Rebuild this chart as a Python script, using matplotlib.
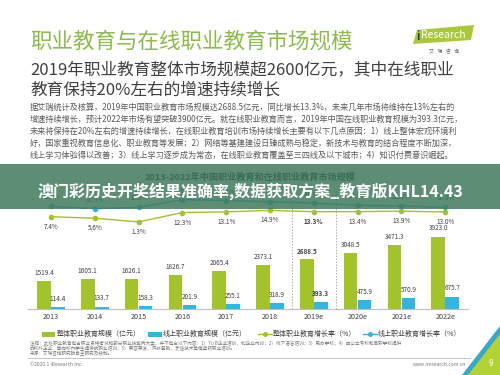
import matplotlib
matplotlib.use("Agg")
import matplotlib.pyplot as plt
from matplotlib.patches import Rectangle, Polygon

plt.rcParams['font.family'] = ['Noto Sans CJK SC', 'DejaVu Sans']

# ---------------- data ----------------
years = ['2013', '2014', '2015', '2016', '2017', '2018', '2019e', '2020e', '2021e', '2022e']
total_size = [1519.4, 1605.1, 1626.1, 1826.7, 2065.4, 2373.1, 2688.5, 3048.5, 3471.3, 3923.0]
online_size = [114.4, 133.7, 158.3, 201.9, 255.1, 318.9, 393.3, 475.9, 570.9, 675.7]
total_rate = [7.4, 5.6, 1.3, 12.3, 13.1, 14.9, 13.3, 13.4, 13.9, 13.0]
online_rate = [19.5, 16.9, 18.3, 27.6, 26.4, 25.0, 23.3, 21.0, 20.0, 18.4]
legend_labels = ['整体职业教育规模（亿元）', '线上职业教育规模（亿元）',
                 '整体职业教育增长率（%）', '线上职业教育增长率（%）']

title = '职业教育与在线职业教育市场规模'
subtitle = ['2019年职业教育整体市场规模超2600亿元，其中在线职业',
            '教育保持20%左右的增速持续增长']
paragraph = [
    '据艾瑞统计及核算，2019年中国职业教育市场规模达2688.5亿元，同比增长13.3%，未来几年市场将维持在13%左右的',
    '增速持续增长，预计2022年市场有望突破3900亿元。就在线职业教育而言，2019年中国在线职业教育规模为393.3亿元，',
    '未来将保持在20%左右的增速持续增长，在线职业教育培训市场持续增长主要有以下几点原因：1）线上整体宏观环境利',
    '好，国家重视教育信息化、职业教育等发展；2）网络等基建建设日臻成熟与稳定，新技术与教育的结合程度不断加深，',
    '线上学习体验得以改善；3）线上学习逐步成为常态，在线职业教育覆盖至三四线及以下城市；4）知识付费意识崛起。',
]
chart_title = '2013-2022年中国职业教育和在线职业教育市场规模'
banner = '澳门彩历史开奖结果准确率,数据获取方案_教育版KHL14.43'
notes = [
    '注释：此处职业教育包含职业资格考试和部分职业技能两大类，并不包含以下内容：1）To B企业培训，如企业内训；2）线下语言培训；3）民办学校；4）由公立专科和高职学校提供',
    '的校外企业、面向校内学生提供的职业培训；5）美容美发、汽修驾驶、烹饪技术等偏蓝领职业培训。',
    '来源：艾瑞咨询研究院自主研究及绘制。',
]

GREEN = '#a3c32a'
BLUE = '#2fb6e3'

W, H = 500, 375
fig = plt.figure(figsize=(5, 3.75), dpi=100)
fig.patch.set_facecolor('white')

def fx(x):
    return x / W

def fy(y):
    return 1 - y / H

# ---------------- header texts ----------------
fig.text(fx(30), fy(42), title, fontsize=15.5, color='#8dbb4a', va='center', ha='left')
fig.text(fx(30), fy(70), subtitle[0], fontsize=12, color='#404040', va='center', ha='left')
fig.text(fx(30), fy(90), subtitle[1], fontsize=12, color='#404040', va='center', ha='left')
for k, line in enumerate(paragraph):
    fig.text(fx(30), fy(107 + 12 * k), line, fontsize=5.9, color='#5a5a5a', va='center', ha='left')

# logo
logo = Polygon([(fx(413), fy(44)), (fx(471), fy(40)), (fx(474), fy(25)), (fx(417), fy(30))],
               closed=True, transform=fig.transFigure, facecolor='#a9c83c', edgecolor='none')
fig.add_artist(logo)
fig.text(fx(418), fy(36), 'i', fontsize=8, color='#1f3b6e', va='center', ha='center', weight='bold')
fig.text(fx(421), fy(35.5), 'Research', fontsize=7.5, color='white', va='center', ha='left')
fig.text(fx(444), fy(52), '艾   瑞   咨   询', fontsize=3.6, color='#666666', va='center', ha='center')

# ---------------- bar axes ----------------
n = len(years)
x0, x1 = -0.525, 9.52
ax = fig.add_axes([fx(28), 66 / H, 440 / W, 73.9 / H])
xs = list(range(n))
bw = 0.31
ax.bar([i - 0.16 for i in xs], total_size, width=bw, color=GREEN, zorder=2)
ax.bar([i + 0.16 for i in xs], online_size, width=bw, color=BLUE, zorder=2)
ax.set_xlim(x0, x1)
ax.set_ylim(0, 4000)
for s in ['top', 'right', 'left']:
    ax.spines[s].set_visible(False)
ax.spines['bottom'].set_color('#bfbfbf')
ax.spines['bottom'].set_linewidth(0.8)
ax.set_yticks([])
ax.set_xticks(xs)
ax.set_xticklabels(years, fontsize=5.2, color='#404040')
ax.tick_params(axis='x', length=0, pad=3)
ax.patch.set_alpha(0)

for i in xs:
    wt = 'bold' if years[i] == '2019e' else 'normal'
    ax.annotate(f'{total_size[i]:.1f}', (i - 0.16, total_size[i]), xytext=(0, 5.8),
                textcoords='offset points', ha='center', va='center', fontsize=4.6,
                color='#404040', weight=wt, annotation_clip=False)
    ax.annotate(f'{online_size[i]:.1f}', (i + 0.16, online_size[i]), xytext=(0, 5.8),
                textcoords='offset points', ha='center', va='center', fontsize=4.6,
                color='#404040', weight=wt, annotation_clip=False)

for xv in (5.5, 6.5):
    ax.plot([xv, xv], [0, 6500], color='#b0b0b0', lw=0.7, ls=(0, (1.5, 1.5)), clip_on=False, zorder=1)

# ---------------- line axes ----------------
ax2 = fig.add_axes([fx(28), fy(223), 440 / W, 25.5 / H])
ax2.set_xlim(x0, x1)
ax2.set_ylim(0, 30)
ax2.axis('off')
ax2.plot(xs, total_rate, color=GREEN, lw=1.0, marker='o', ms=3, clip_on=False)
ax2.plot(xs, online_rate, color=BLUE, lw=1.0, marker='o', ms=3, clip_on=False)
for i in xs:
    wt = 'bold' if years[i] == '2019e' else 'normal'
    ax2.annotate(f'{total_rate[i]:.1f}%', (i, total_rate[i]), xytext=(0, -7.2),
                 textcoords='offset points', ha='center', va='center', fontsize=4.6,
                 color='#404040', weight=wt, annotation_clip=False)
    ax2.annotate(f'{online_rate[i]:.1f}%', (i, online_rate[i]), xytext=(0, 6.5),
                 textcoords='offset points', ha='center', va='center', fontsize=4.6,
                 color='#404040', weight=wt, annotation_clip=False)

# ---------------- legend ----------------
ly = fy(334)
fig.add_artist(Rectangle((fx(42), fy(336.5)), 13 / W, 5 / H, transform=fig.transFigure,
                         facecolor=GREEN, edgecolor='none'))
fig.text(fx(57), ly, legend_labels[0], fontsize=5, color='#404040', va='center', ha='left')
fig.add_artist(Rectangle((fx(148), fy(336.5)), 14 / W, 5 / H, transform=fig.transFigure,
                         facecolor=BLUE, edgecolor='none'))
fig.text(fx(163), ly, legend_labels[1], fontsize=5, color='#404040', va='center', ha='left')
for (xa, col, lab) in ((258, GREEN, legend_labels[2]), (363, BLUE, legend_labels[3])):
    fig.add_artist(plt.Line2D([fx(xa), fx(xa + 14)], [ly, ly], transform=fig.transFigure,
                              color=col, lw=1.0))
    fig.add_artist(plt.Line2D([fx(xa + 7)], [ly], transform=fig.transFigure, color=col,
                              marker='o', ms=2.6))
    fig.text(fx(xa + 15), ly, lab, fontsize=5, color='#404040', va='center', ha='left')

# ---------------- chart title + overlay band ----------------
fig.text(fx(250), fy(177), chart_title, fontsize=6.6, color='#202020', weight='bold',
         va='center', ha='center')
band = Rectangle((0, fy(209)), 1, 45 / H, transform=fig.transFigure,
                 facecolor='#3f7a5c', edgecolor='none', alpha=0.85, zorder=5)
fig.add_artist(band)
t = fig.text(fx(250), fy(191), banner, fontsize=11.5, color='white', weight='bold',
             va='center', ha='center')
t.set_zorder(6)

# ---------------- footer ----------------
for k, line in enumerate(notes):
    fig.text(fx(30), fy(343 + 5.5 * k), line, fontsize=3.3, color='#777777', va='center', ha='left')
fig.add_artist(plt.Line2D([fx(28), fx(470)], [fy(358), fy(358)], transform=fig.transFigure,
                          color='#bbbbbb', lw=0.6))
fig.text(fx(30), fy(365), '©2020.1 iResearch Inc.', fontsize=3.6, color='#777777', va='center', ha='left')
fig.text(fx(466), fy(365), 'www.iresearch.com.cn', fontsize=3.6, color='#777777', va='center', ha='right')

tri_blue = Polygon([(fx(500), fy(326)), (fx(500), fy(340)), (fx(470), fy(375)), (fx(462), fy(375))],
                   closed=True, transform=fig.transFigure, facecolor='#35a9c9', edgecolor='none')
fig.add_artist(tri_blue)
tri_green = Polygon([(fx(500), fy(334)), (fx(500), fy(375)), (fx(468), fy(375))],
                    closed=True, transform=fig.transFigure, facecolor='#b2d235', edgecolor='none')
fig.add_artist(tri_green)
fig.text(fx(491), fy(364), '9', fontsize=6, color='white', va='center', ha='center')

fig.savefig('out.png', dpi=100)
